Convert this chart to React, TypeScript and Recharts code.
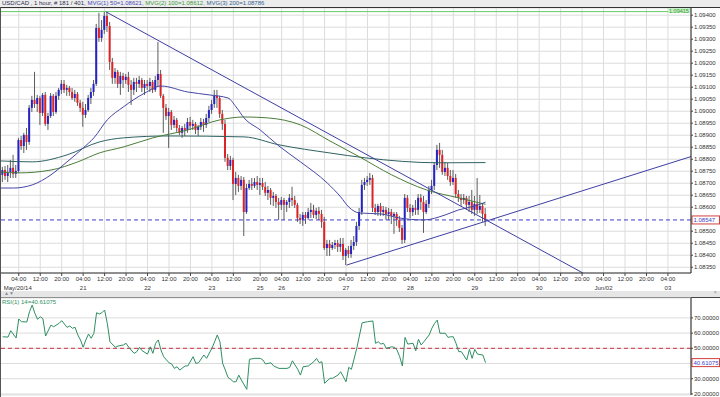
import {
  Bar,
  CartesianGrid,
  ComposedChart,
  Line,
  LineChart,
  ReferenceLine,
  XAxis,
  YAxis,
} from "recharts";

// hourly candles, index 0 = May 19 ~21:00
const open = [
  1.08747, 1.08735, 1.08755, 1.0873, 1.08747, 1.08764, 1.08739, 1.08751, 1.0888, 1.08855,
  1.08901, 1.08872, 1.09014, 1.09047, 1.0903, 1.09055, 1.08993, 1.09068, 1.08947, 1.0898,
  1.09064, 1.08997, 1.09064, 1.09089, 1.09114, 1.09089, 1.09097, 1.0908, 1.09055, 1.09072,
  1.09035, 1.09014, 1.08985, 1.09005, 1.09055, 1.0908, 1.09114, 1.09347, 1.09305, 1.09339,
  1.09397, 1.09355, 1.09205, 1.09139, 1.09164, 1.09114, 1.09147, 1.0913, 1.09143, 1.0911,
  1.09089, 1.09122, 1.09114, 1.0913, 1.09097, 1.09114, 1.09105, 1.09122, 1.09089, 1.0913,
  1.09155, 1.09064, 1.09014, 1.0898, 1.08997, 1.08943, 1.08964, 1.0893, 1.0891, 1.0893,
  1.08922, 1.08955, 1.08939, 1.08947, 1.08922, 1.08935, 1.08955, 1.08943, 1.08972, 1.09005,
  1.0903, 1.09064, 1.09055, 1.08989, 1.08947, 1.08806, 1.08772, 1.08797, 1.08697, 1.08722,
  1.08689, 1.08714, 1.0858, 1.0868, 1.08697, 1.08689, 1.08705, 1.08693, 1.08701, 1.08685,
  1.0866, 1.08672, 1.08639, 1.08647, 1.08622, 1.0861, 1.0863, 1.0861, 1.08622, 1.08639,
  1.0863, 1.0861, 1.08555, 1.08547, 1.08568, 1.08555, 1.0858, 1.08589, 1.08568, 1.08585,
  1.08572, 1.08539, 1.0843, 1.08447, 1.0843, 1.08443, 1.08451, 1.08435, 1.08447, 1.08397,
  1.08422, 1.08405, 1.08439, 1.08455, 1.08522, 1.0858, 1.08693, 1.08705, 1.08714, 1.08722,
  1.08597, 1.0858, 1.08605, 1.0858, 1.08589, 1.08572, 1.0858, 1.08564, 1.08572, 1.08547,
  1.08514, 1.08464, 1.08639, 1.08597, 1.0858, 1.08597, 1.08589, 1.08639, 1.08622, 1.0858,
  1.08614, 1.08672, 1.08689, 1.08776, 1.08839, 1.08818, 1.08747, 1.08764, 1.0873, 1.08705,
  1.08722, 1.08655, 1.08639, 1.0863, 1.08639, 1.0861, 1.08622, 1.08589, 1.08614, 1.08589,
  1.08605, 1.08572,
];
const close = [
  1.08735, 1.08755, 1.0873, 1.08747, 1.08764, 1.08739, 1.08751, 1.0888, 1.08855, 1.08901,
  1.08872, 1.09014, 1.09047, 1.0903, 1.09055, 1.08993, 1.09068, 1.08947, 1.0898, 1.09064,
  1.08997, 1.09064, 1.09089, 1.09114, 1.09089, 1.09097, 1.0908, 1.09055, 1.09072, 1.09035,
  1.09014, 1.08985, 1.09005, 1.09055, 1.0908, 1.09114, 1.09347, 1.09305, 1.09339, 1.09397,
  1.09355, 1.09205, 1.09139, 1.09164, 1.09114, 1.09147, 1.0913, 1.09143, 1.0911, 1.09089,
  1.09122, 1.09114, 1.0913, 1.09097, 1.09114, 1.09105, 1.09122, 1.09089, 1.0913, 1.09155,
  1.09064, 1.09014, 1.0898, 1.08997, 1.08943, 1.08964, 1.0893, 1.0891, 1.0893, 1.08922,
  1.08955, 1.08939, 1.08947, 1.08922, 1.08935, 1.08955, 1.08943, 1.08972, 1.09005, 1.0903,
  1.09064, 1.09055, 1.08989, 1.08947, 1.08806, 1.08772, 1.08797, 1.08697, 1.08722, 1.08689,
  1.08714, 1.0858, 1.0868, 1.08697, 1.08689, 1.08705, 1.08693, 1.08701, 1.08685, 1.0866,
  1.08672, 1.08639, 1.08647, 1.08622, 1.0861, 1.0863, 1.0861, 1.08622, 1.08639, 1.0863,
  1.0861, 1.08555, 1.08547, 1.08568, 1.08555, 1.0858, 1.08589, 1.08568, 1.08585, 1.08572,
  1.08539, 1.0843, 1.08447, 1.0843, 1.08443, 1.08451, 1.08435, 1.08447, 1.08397, 1.08422,
  1.08405, 1.08439, 1.08455, 1.08522, 1.0858, 1.08693, 1.08705, 1.08714, 1.08722, 1.08597,
  1.0858, 1.08605, 1.0858, 1.08589, 1.08572, 1.0858, 1.08564, 1.08572, 1.08547, 1.08514,
  1.08464, 1.08639, 1.08597, 1.0858, 1.08597, 1.08589, 1.08639, 1.08622, 1.0858, 1.08614,
  1.08672, 1.08689, 1.08776, 1.08839, 1.08818, 1.08747, 1.08764, 1.0873, 1.08705, 1.08722,
  1.08655, 1.08639, 1.0863, 1.08639, 1.0861, 1.08622, 1.08589, 1.08614, 1.08589, 1.08605,
  1.08572, 1.08547,
];
const high = [
  1.08764, 1.08768, 1.08772, 1.08776, 1.08797, 1.08818, 1.08776, 1.08889, 1.08897, 1.0891,
  1.0893, 1.09026, 1.09064, 1.09164, 1.09068, 1.09064, 1.09076, 1.0908, 1.08993, 1.09076,
  1.09072, 1.0908, 1.09097, 1.0913, 1.0913, 1.0911, 1.09105, 1.09097, 1.09089, 1.0908,
  1.09047, 1.09039, 1.0903, 1.09068, 1.09097, 1.0913, 1.09364, 1.0941, 1.0938, 1.09414,
  1.09414, 1.09372, 1.09222, 1.0918, 1.09172, 1.09164, 1.0916, 1.09155, 1.09164, 1.0913,
  1.09139, 1.09139, 1.09147, 1.09139, 1.0913, 1.0913, 1.09139, 1.0913, 1.09147, 1.09289,
  1.09172, 1.09072, 1.0903, 1.09014, 1.09005, 1.0898, 1.08972, 1.08943, 1.08939, 1.08947,
  1.08972, 1.08976, 1.08964, 1.08955, 1.08943, 1.08972, 1.08968, 1.08989, 1.09022, 1.09047,
  1.09089, 1.09089, 1.09064, 1.09005, 1.08964, 1.08822, 1.08814, 1.08806, 1.08747, 1.08735,
  1.0873, 1.08726, 1.08697, 1.08714, 1.08722, 1.08722, 1.0873, 1.08722, 1.08722, 1.08705,
  1.08689, 1.0868, 1.08664, 1.08655, 1.08639, 1.08643, 1.08639, 1.0863, 1.08655, 1.08685,
  1.08647, 1.08618, 1.08572, 1.0858, 1.0858, 1.08597, 1.08618, 1.0861, 1.08597, 1.08601,
  1.08589, 1.0856, 1.08464, 1.08464, 1.08455, 1.08464, 1.08464, 1.08472, 1.08472, 1.0843,
  1.08439, 1.08464, 1.0848, 1.08539, 1.08597, 1.08714, 1.08722, 1.0873, 1.08743, 1.08735,
  1.08614, 1.08614, 1.08618, 1.08605, 1.08601, 1.08597, 1.08593, 1.0858, 1.0858, 1.08564,
  1.08526, 1.08655, 1.08651, 1.08614, 1.0861, 1.0863, 1.08655, 1.08655, 1.08647, 1.0863,
  1.08689, 1.08714, 1.08789, 1.0886, 1.08868, 1.08839, 1.08789, 1.08785, 1.08755, 1.08755,
  1.08739, 1.08672, 1.08655, 1.08655, 1.08647, 1.08647, 1.08672, 1.08647, 1.08722, 1.08651,
  1.08614, 1.08597,
];
const low = [
  1.08714, 1.08705, 1.08714, 1.08705, 1.08722, 1.08722, 1.08722, 1.08743, 1.08839, 1.08826,
  1.08839, 1.0886, 1.08997, 1.09014, 1.08997, 1.08943, 1.0898, 1.08939, 1.08922, 1.08972,
  1.0898, 1.08989, 1.09047, 1.09072, 1.09076, 1.09064, 1.09064, 1.09047, 1.09039, 1.09022,
  1.08997, 1.08935, 1.08972, 1.08997, 1.0903, 1.09064, 1.09105, 1.09289, 1.09289, 1.09322,
  1.0933, 1.09172, 1.09114, 1.09114, 1.09097, 1.09068, 1.09097, 1.09114, 1.0908, 1.09026,
  1.09068, 1.0908, 1.09097, 1.0908, 1.09068, 1.09089, 1.0908, 1.09076, 1.0908, 1.09105,
  1.09055, 1.0891, 1.08964, 1.08847, 1.08922, 1.0893, 1.08914, 1.08901, 1.08889, 1.08897,
  1.0891, 1.08922, 1.08922, 1.08905, 1.08897, 1.08922, 1.08914, 1.0893, 1.08955, 1.08989,
  1.09014, 1.09014, 1.08972, 1.08922, 1.08789, 1.08755, 1.08755, 1.0863, 1.08651, 1.08664,
  1.08672, 1.0848, 1.08572, 1.08672, 1.08672, 1.0868, 1.08672, 1.08651, 1.08672, 1.08647,
  1.0863, 1.0861, 1.08605, 1.08597, 1.08547, 1.08589, 1.08547, 1.0858, 1.08597, 1.08605,
  1.08597, 1.08539, 1.0853, 1.08522, 1.0853, 1.08547, 1.08555, 1.08555, 1.08551, 1.08547,
  1.08514, 1.08422, 1.08397, 1.08397, 1.08422, 1.08426, 1.08414, 1.08414, 1.0838, 1.08359,
  1.08389, 1.08389, 1.08422, 1.08439, 1.08505, 1.08568, 1.08672, 1.08689, 1.08693, 1.0858,
  1.08568, 1.08564, 1.08564, 1.08564, 1.08547, 1.08547, 1.0853, 1.08489, 1.08522, 1.08497,
  1.08447, 1.08451, 1.0858, 1.08555, 1.08564, 1.08568, 1.08568, 1.08589, 1.08493, 1.08572,
  1.08597, 1.08655, 1.08672, 1.08755, 1.08764, 1.08735, 1.0873, 1.08714, 1.08689, 1.08693,
  1.08639, 1.08622, 1.08605, 1.08614, 1.08589, 1.0858, 1.08572, 1.08564, 1.08572, 1.08576,
  1.08539, 1.08522,
];

// moving averages read at a few candles, joined by the line
const ma50Idx = [0, 5, 12, 19, 25, 31, 35, 40, 46, 54, 60, 70, 78, 85, 88, 91, 97, 104, 112, 122, 127, 130, 134, 142, 149, 158, 166, 171, 177, 181];
const ma50Val = [
  1.0868, 1.0868, 1.08693, 1.08735, 1.08789, 1.08847, 1.08889, 1.08964, 1.09018, 1.09076,
  1.09105, 1.0908, 1.09068, 1.09055, 1.09018, 1.08972, 1.08922, 1.08855, 1.08789, 1.08701,
  1.08643, 1.08601, 1.08576, 1.08572, 1.08555, 1.08547, 1.08568, 1.08589, 1.08605, 1.08621,
];
const ma100Idx = [0, 7, 19, 29, 37, 46, 57, 70, 82, 91, 100, 112, 123, 134, 146, 159, 171, 181];
const ma100Val = [
  1.08747, 1.08743, 1.08755, 1.08789, 1.08826, 1.08851, 1.08889, 1.08922, 1.08964, 1.08976,
  1.08972, 1.08943, 1.08876, 1.0881, 1.08735, 1.08672, 1.08639, 1.08612,
];
const ma200Idx = [0, 12, 25, 37, 46, 63, 91, 104, 123, 136, 164, 181];
const ma200Val = [1.08793, 1.08789, 1.08818, 1.08872, 1.08889, 1.08897, 1.08893, 1.0886, 1.08826, 1.08806, 1.08785, 1.08786];

const rsiIdx = [
  1, 3, 4, 6, 7, 8, 10, 11, 12, 13, 14, 15, 16, 17, 19, 20, 22, 23, 25, 26, 27, 28, 29, 30, 31, 32, 33, 34, 35, 36,
  37, 38, 39, 40, 41, 43, 44, 46, 47, 48, 50, 51, 52, 53, 55, 56, 57, 58, 59, 60, 61, 63, 64, 65, 66, 67, 69, 70, 72, 73,
  74, 76, 77, 79, 80, 81, 82, 83, 84, 85, 86, 87, 88, 89, 90, 92, 93, 95, 97, 98, 99, 101, 102, 104, 107, 108, 109, 111, 112, 113,
  115, 117, 118, 119, 120, 121, 123, 124, 126, 127, 129, 130, 131, 133, 135, 137, 139, 140, 141, 142, 143, 144, 146, 147, 148, 149, 150, 151, 152, 154,
  155, 156, 157, 158, 160, 161, 162, 163, 164, 166, 167, 168, 169, 170, 171, 172, 174, 175, 176, 177, 178, 180, 181,
];
const rsiVal = [
  57.6, 57.4, 61.6, 56.8, 69.3, 67.5, 67.3, 74.1, 78.5, 73.0, 69.1, 70.8, 69.5, 58.1, 65.3, 64.2, 66.4, 68.2, 63.8, 64.7,
  63.2, 63.8, 58.8, 55.5, 50.7, 55.5, 59.4, 56.6, 59.9, 73.4, 72.6, 73.4, 75.2, 66.4, 54.3, 50.7, 51.5, 52.2, 53.3, 50.7,
  46.7, 47.8, 50.7, 48.4, 46.2, 51.0, 46.7, 53.3, 55.5, 48.9, 44.5, 40.5, 39.7, 36.8, 37.9, 35.7, 38.4, 38.4, 44.5, 40.1,
  40.5, 45.6, 43.4, 50.0, 54.3, 58.8, 54.3, 40.1, 35.7, 30.9, 29.6, 28.0, 28.0, 32.4, 29.1, 23.0, 42.8, 43.4, 43.4, 42.3,
  39.7, 40.5, 38.4, 36.8, 36.8, 37.5, 41.8, 36.2, 32.4, 37.9, 38.4, 41.2, 43.4, 40.5, 41.2, 27.0, 30.3, 30.3, 32.4, 34.6,
  28.0, 37.5, 36.2, 50.0, 66.8, 67.5, 68.0, 53.3, 54.3, 52.8, 53.3, 50.0, 51.0, 50.7, 48.9, 44.5, 38.4, 57.2, 52.8, 53.3,
  48.4, 55.9, 52.2, 54.3, 58.8, 63.2, 66.4, 68.6, 59.9, 59.9, 57.2, 57.6, 57.6, 53.3, 47.8, 47.8, 42.3, 49.3, 43.4, 49.3,
  46.2, 45.6, 40.61,
];

const tickIdx = [7, 15, 23, 31, 39, 47, 55, 63, 71, 79, 87, 97, 105, 113, 121, 129, 137, 145, 153, 161, 169, 177, 185, 193, 201, 209, 217, 225, 233, 241, 249];
const tickTime = [
  "04:00", "12:00", "20:00", "04:00", "12:00", "20:00", "04:00", "12:00", "20:00", "04:00", "12:00", "20:00", "04:00", "12:00", "20:00", "04:00",
  "12:00", "20:00", "04:00", "12:00", "20:00", "04:00", "12:00", "20:00", "04:00", "12:00", "20:00", "04:00", "12:00", "20:00", "04:00",
];
const tickDate = [
  "May/20/14", "", "", "21", "", "", "22", "", "", "23", "", "25", "26", "", "", "27",
  "", "", "28", "", "", "29", "", "", "30", "", "", "Jun/02", "", "", "03",
];
const priceTicks = [
  1.0835, 1.084, 1.0845, 1.085, 1.086, 1.0865, 1.087, 1.0875, 1.088, 1.0885, 1.089,
  1.0895, 1.09, 1.0905, 1.091, 1.0915, 1.092, 1.0925, 1.093, 1.0935, 1.094,
];
const rsiTicks = [20, 30, 50, 60, 70];

const lastPrice = 1.08547;
const sessionHigh = 1.09415;
const lastRsi = 40.61075;
const downTrend = [
  { x: 39.5, y: 1.09414 },
  { x: 217.3, y: 1.08326 },
];
const upTrend = [
  { x: 129.2, y: 1.08359 },
  { x: 257.6, y: 1.08811 },
];

const X_MAX = 257.6;
const FONT = '"Liberation Sans", Arial, sans-serif';

function pick(idx: number[], val: number[], i: number) {
  const k = idx.indexOf(i);
  return k >= 0 ? val[k] : null;
}

const mainData = open.map((o, i) => ({
  i,
  open: o,
  close: close[i],
  high: high[i],
  low: low[i],
  range: [low[i], high[i]],
  ma50: pick(ma50Idx, ma50Val, i),
  ma100: pick(ma100Idx, ma100Val, i),
  ma200: pick(ma200Idx, ma200Val, i),
}));

const rsiData = rsiIdx.map((i, k) => ({ i, v: rsiVal[k] }));

function Candle(props: any) {
  const { x, y, width, height, payload } = props;
  if (x == null || y == null || !payload) return null;
  const top = Math.min(y, y + height);
  const h = Math.abs(height);
  const span = payload.high - payload.low || 1;
  const py = (v: number) => top + ((payload.high - v) / span) * h;
  const cx = x + width / 2;
  const yo = py(payload.open);
  const yc = py(payload.close);
  const fill =
    payload.close === payload.open ? "#9a9a9a" : payload.close > payload.open ? "#2424c4" : "#dc2424";
  return (
    <g>
      <line x1={cx} x2={cx} y1={top} y2={top + h} stroke="#5c5c5c" strokeWidth={1} />
      <rect x={cx - 1} y={Math.min(yo, yc)} width={2} height={Math.max(1, Math.abs(yc - yo))} fill={fill} />
    </g>
  );
}

function TimeTick(props: any) {
  const { x, y, payload } = props;
  const k = tickIdx.indexOf(payload.value);
  if (k < 0) return null;
  const date = tickDate[k];
  return (
    <g fontFamily={FONT} fontSize={6} fill="#333">
      <text x={x} y={y + 3} textAnchor="middle">
        {tickTime[k]}
      </text>
      {date ? (
        <text x={k === 0 ? x - 15 : x} y={y + 12} textAnchor={k === 0 ? "start" : "middle"}>
          {date}
        </text>
      ) : null}
    </g>
  );
}

function SideTag(props: any) {
  const { viewBox, text, color, border } = props;
  if (!viewBox) return null;
  const x = viewBox.x + viewBox.width;
  const y = viewBox.y;
  return (
    <g>
      <rect x={x + 1} y={y - 4} width={27.5} height={8} fill="#fff" stroke={border} strokeWidth={1} />
      <text x={x + 2.5} y={y + 2.2} fontSize={6} fontFamily={FONT} fill={color}>
        {text}
      </text>
    </g>
  );
}

function HighTag(props: any) {
  const { viewBox } = props;
  if (!viewBox) return null;
  const x = viewBox.x + viewBox.width;
  const y = viewBox.y;
  return (
    <g>
      <rect x={x - 23} y={y - 4} width={23} height={5.5} fill="#c8f0c8" />
      <text x={x - 22} y={y + 1.2} fontSize={5.5} fontFamily={FONT} fill="#2f9a2f">
        {sessionHigh.toFixed(5)}
      </text>
    </g>
  );
}

export default function App() {
  return (
    <div
      style={{
        position: "absolute",
        left: 0,
        top: 0,
        width: 720,
        height: 397,
        background: "#fff",
        overflow: "hidden",
        fontFamily: FONT,
      }}
    >
      <div style={{ position: "absolute", left: 0, top: 0 }}>
        <ComposedChart width={720} height={292} data={mainData} margin={{ top: 8, right: 0, bottom: 0, left: 0 }}>
          <CartesianGrid stroke="#dcdcdc" />
          <XAxis
            dataKey="i"
            type="number"
            domain={[0, X_MAX]}
            ticks={tickIdx}
            interval={0}
            allowDataOverflow
            height={19}
            tickSize={3}
            tickLine={{ stroke: "#444" }}
            axisLine={{ stroke: "#333" }}
            tick={(p: any) => <TimeTick {...p} />}
          />
          <YAxis
            orientation="right"
            type="number"
            domain={[1.08326, 1.0943]}
            ticks={priceTicks}
            interval={0}
            allowDataOverflow
            width={29}
            tickSize={2}
            tickMargin={1}
            tickLine={{ stroke: "#444" }}
            axisLine={{ stroke: "#222" }}
            tick={{ fontSize: 6, fill: "#333", fontFamily: FONT }}
            tickFormatter={(v: number) => v.toFixed(5)}
          />
          <ReferenceLine y={sessionHigh} stroke="#66cc66" strokeWidth={1} label={<HighTag />} />
          <ReferenceLine y={lastPrice} stroke="#3c3cc8" strokeDasharray="4 3" />
          <Bar dataKey="range" barSize={2} shape={<Candle />} isAnimationActive={false} />
          <Line dataKey="ma200" stroke="#2f6262" strokeWidth={1} dot={false} connectNulls type="monotone" isAnimationActive={false} />
          <Line dataKey="ma100" stroke="#4b7d3b" strokeWidth={1} dot={false} connectNulls type="monotone" isAnimationActive={false} />
          <Line dataKey="ma50" stroke="#4646a6" strokeWidth={1} dot={false} connectNulls type="monotone" isAnimationActive={false} />
          <ReferenceLine segment={downTrend} stroke="#3e3ea4" strokeWidth={1} ifOverflow="visible" />
          <ReferenceLine segment={upTrend} stroke="#3e3ea4" strokeWidth={1} ifOverflow="visible" />
          <ReferenceLine
            y={lastPrice}
            stroke="none"
            label={<SideTag text={lastPrice.toFixed(5)} color="#3c3cc8" border="#d04040" />}
          />
        </ComposedChart>
      </div>

      <div
        style={{
          position: "absolute",
          left: 0,
          top: 0,
          width: 720,
          height: 7,
          background: "#ececec",
          borderBottom: "1px solid #333",
          fontSize: 6,
          lineHeight: "7px",
          whiteSpace: "nowrap",
          overflow: "hidden",
        }}
      >
        <span style={{ marginLeft: 2, color: "#2d2d50" }}>USD/CAD , 1 hour, # 181 / 401, </span>
        <span style={{ color: "#4b4bb8" }}>MVG(1) 50=1.08621, </span>
        <span style={{ color: "#3f9a3f" }}>MVG(2) 100=1.08612, </span>
        <span style={{ color: "#35628f" }}>MVG(3) 200=1.08786</span>
      </div>

      <div
        style={{
          position: "absolute",
          left: 0,
          top: 291,
          width: 720,
          height: 6,
          background: "#e6e6e6",
          borderBottom: "1px solid #444",
        }}
      >
        <span style={{ position: "absolute", left: 4, top: -1, fontSize: 5, color: "#8a8a9a" }}>▲▼</span>
        <span style={{ position: "absolute", right: 3, top: -2, fontSize: 6, color: "#999" }}>×</span>
      </div>

      <div style={{ position: "absolute", left: 0, top: 297 }}>
        <LineChart width={720} height={100} data={rsiData} margin={{ top: 1, right: 0, bottom: 2, left: 0 }}>
          <CartesianGrid stroke="#dcdcdc" />
          <XAxis
            dataKey="i"
            type="number"
            domain={[0, X_MAX]}
            ticks={tickIdx}
            interval={0}
            allowDataOverflow
            height={0}
            tick={false}
            tickLine={false}
            axisLine={{ stroke: "#333" }}
          />
          <YAxis
            orientation="right"
            type="number"
            domain={[19.3, 83.1]}
            ticks={rsiTicks}
            interval={0}
            allowDataOverflow
            width={29}
            tickSize={2}
            tickMargin={1}
            tickLine={{ stroke: "#444" }}
            axisLine={{ stroke: "#222" }}
            tick={{ fontSize: 6, fill: "#333", fontFamily: FONT }}
            tickFormatter={(v: number) => v.toFixed(5)}
          />
          <ReferenceLine y={40} stroke="#dcdcdc" />
          <ReferenceLine y={50} stroke="#cc3344" strokeDasharray="4 3" />
          <Line dataKey="v" stroke="#2f8f63" strokeWidth={1} dot={false} type="linear" isAnimationActive={false} />
          <ReferenceLine
            y={lastRsi}
            stroke="none"
            label={<SideTag text={lastRsi.toFixed(5)} color="#3c3cc8" border="#d04040" />}
          />
        </LineChart>
        <div style={{ position: "absolute", left: 2, top: 2, fontSize: 6, color: "#2f8f63", whiteSpace: "nowrap" }}>
          RSI(1) 14=40.61075
        </div>
      </div>

      <div style={{ position: "absolute", left: 0, top: 7, width: 1, height: 390, background: "#555" }} />
    </div>
  );
}
